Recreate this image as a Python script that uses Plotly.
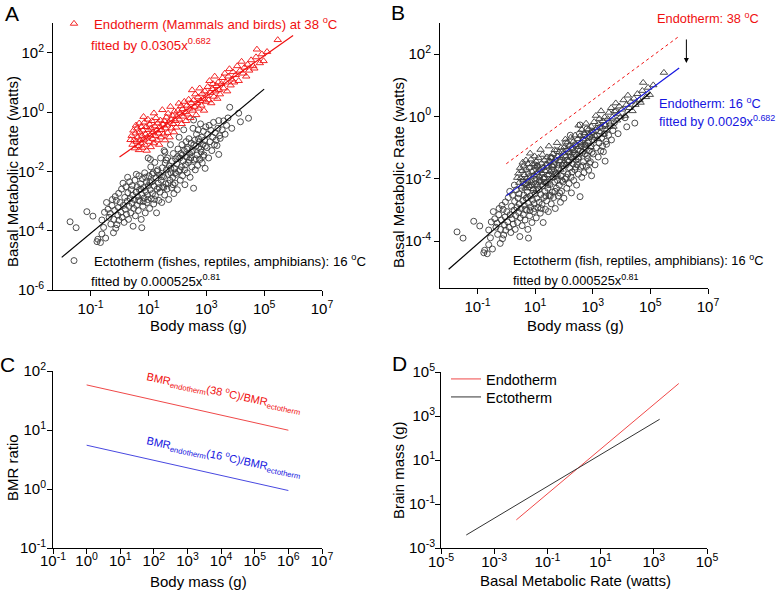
import math
import plotly.graph_objects as go

W, H = 778, 590
FONT = "Liberation Sans, Arial, Helvetica, sans-serif"
RED = "#f01010"
BLUE = "#1515e0"

# ---------------- data (log10 body mass [g], log10 BMR [W]) ----------------
ectotherm_points = [
    (-1.71, -3.70), (-1.50, -3.90), (-1.13, -3.36), (-0.92, -3.51), (-0.78, -4.37), (-0.75, -4.29),
    (-0.66, -4.40), (-0.61, -4.11), (-0.61, -3.64), (-0.55, -3.89), (-0.52, -3.38), (-0.48, -4.25),
    (-0.45, -3.05), (-0.40, -3.28), (-0.36, -3.55), (-0.32, -3.42), (-0.30, -3.78), (-0.26, -3.15),
    (-0.25, -2.95), (-0.21, -4.07), (-0.20, -3.62), (-0.17, -3.32), (-0.15, -2.85), (-0.13, -3.92),
    (-0.11, -2.98), (-0.09, -3.80), (-0.06, -3.48), (-0.04, -3.22), (-0.03, -2.74), (-0.02, -3.65),
    (0.02, -3.05), (0.05, -3.38), (0.07, -2.60), (0.09, -3.55), (0.12, -2.40), (0.13, -3.15),
    (0.16, -3.72), (0.18, -2.88), (0.20, -3.28), (0.22, -2.52), (0.24, -3.45), (0.27, -3.00),
    (0.28, -2.20), (0.29, -2.72), (0.31, -3.62), (0.33, -3.18), (0.35, -2.35), (0.37, -2.92),
    (0.39, -3.40), (0.41, -2.62), (0.43, -3.08), (0.44, -2.48), (0.45, -2.80), (0.47, -3.85),
    (0.49, -3.25),
    (0.51, -2.95), (0.53, -2.30), (0.55, -3.50), (0.57, -2.70), (0.58, -2.10), (0.59, -3.15),
    (0.61, -2.52), (0.63, -2.85), (0.65, -3.32), (0.66, -2.98), (0.67, -2.15), (0.69, -2.62),
    (0.71, -3.00), (0.73, -2.42), (0.74, -2.60), (0.75, -3.62), (0.77, -3.90), (0.77, -2.78),
    (0.79, -2.25), (0.81, -3.18), (0.82, -3.02), (0.83, -2.55), (0.85, -2.90), (0.87, -2.05),
    (0.89, -3.40), (0.90, -2.20), (0.91, -2.68), (0.93, -2.35), (0.95, -3.05), (0.97, -2.80),
    (0.98, -2.95), (0.99, -1.55), (1.00, -2.48),
    (1.02, -2.15), (1.04, -3.25), (1.05, -2.38), (1.06, -2.62), (1.07, -1.60), (1.08, -1.85),
    (1.10, -2.92), (1.12, -2.35), (1.13, -2.10), (1.14, -2.75), (1.16, -2.05), (1.18, -3.10),
    (1.20, -2.50), (1.21, -2.95), (1.22, -1.70), (1.24, -2.82), (1.26, -2.22), (1.28, -3.40),
    (1.29, -2.00), (1.30, -2.60), (1.32, -1.95), (1.34, -2.40), (1.36, -2.98), (1.37, -2.55),
    (1.38, -2.12), (1.40, -2.70), (1.42, -1.55), (1.44, -2.30), (1.45, -2.18), (1.46, -3.05),
    (1.48, -1.88), (1.50, -2.52),
    (1.52, -2.18), (1.53, -2.55), (1.54, -1.30), (1.56, -2.80), (1.57, -1.35), (1.58, -1.72),
    (1.60, -2.42), (1.61, -1.62), (1.62, -1.95), (1.64, -2.60), (1.66, -1.55), (1.68, -2.10),
    (1.69, -2.40), (1.70, -2.95), (1.72, -1.82), (1.74, -2.30), (1.76, -1.10), (1.77, -1.90),
    (1.78, -2.05), (1.80, -2.55), (1.82, -1.65), (1.84, -2.20), (1.85, -2.45), (1.86, -1.40),
    (1.88, -2.75), (1.90, -1.90), (1.92, -2.40), (1.93, -2.05), (1.94, -1.58), (1.96, -2.10),
    (1.98, -1.75), (2.00, -2.62),
    (2.01, -1.50), (2.02, -1.25), (2.04, -2.00), (2.06, -0.85), (2.08, -1.55), (2.09, -1.95),
    (2.10, -2.30), (2.12, -1.40), (2.14, -1.85), (2.16, -1.10), (2.17, -1.45), (2.18, -2.15),
    (2.20, -1.65), (2.22, -0.60), (2.24, -1.30), (2.25, -1.95), (2.26, -2.45), (2.28, -1.78),
    (2.30, -1.00), (2.32, -1.52), (2.33, -1.25), (2.34, -2.05), (2.36, -1.20), (2.38, -1.70),
    (2.40, -0.90), (2.41, -1.62), (2.42, -1.40), (2.44, -2.20), (2.46, -1.55), (2.48, -1.05),
    (2.49, -1.35), (2.50, -1.85),
    (2.52, -1.30), (2.54, -0.55), (2.56, -2.57), (2.56, -0.27), (2.57, -1.10), (2.58, -1.62),
    (2.60, -0.95), (2.62, -1.95), (2.64, -1.15), (2.65, -1.58), (2.66, -0.75), (2.68, -1.45),
    (2.70, -1.80), (2.72, -0.60), (2.73, -0.90), (2.74, -1.20), (2.76, -1.00), (2.78, -1.60),
    (2.80, -0.40), (2.81, -1.25), (2.82, -1.35), (2.84, -0.85), (2.86, -1.72), (2.88, -1.10),
    (2.89, -1.50), (2.90, -0.65), (2.92, -1.45), (2.94, -0.95), (2.96, -1.90), (2.97, -1.15),
    (2.98, -0.50),
    (3.02, -1.20), (3.05, -0.75), (3.08, -1.55), (3.10, -0.45), (3.13, -1.00), (3.16, -0.62),
    (3.19, -1.30), (3.22, -0.85), (3.25, -0.35), (3.28, -1.10), (3.31, -0.70), (3.34, -0.95),
    (3.37, -1.13), (3.40, -0.55), (3.43, -1.43), (3.43, -0.29), (3.46, -0.80), (3.48, -0.89),
    (3.55, -0.60), (3.60, -0.30), (3.65, -0.75), (3.70, -0.45), (3.75, -0.20), (3.81, 0.16),
    (3.88, -0.55), (4.12, -0.04), (4.18, -0.33), (4.46, -0.21),
]

endotherm_points = [
    (0.38, -0.94), (0.42, -0.80), (0.45, -1.10), (0.48, -0.62), (0.50, -0.95), (0.53, -1.22),
    (0.55, -0.72), (0.57, -0.45), (0.59, -1.00), (0.61, -0.55), (0.63, -0.85), (0.65, -1.15),
    (0.67, -1.28), (0.68, -0.38), (0.70, -0.68), (0.72, -0.95), (0.74, -1.05), (0.76, -0.50),
    (0.78, -0.80), (0.79, -1.20),
    (0.81, -0.62), (0.83, -0.16), (0.84, -0.92), (0.86, -0.35), (0.88, -1.10), (0.90, -0.75),
    (0.92, -0.50), (0.94, -1.30), (0.96, -0.85), (0.98, -0.25), (1.00, -0.60), (1.02, -1.00),
    (1.04, -0.42), (1.06, -0.78), (1.08, -1.18), (1.10, -0.55), (1.12, -0.30), (1.14, -0.90),
    (1.16, -0.68), (1.18, -1.05), (1.19, -0.04),
    (1.22, -0.48), (1.24, -0.80), (1.26, -0.20), (1.28, -0.62), (1.30, -0.95), (1.32, -0.38),
    (1.35, -0.72), (1.37, -1.10), (1.39, -0.50), (1.41, -0.28), (1.43, -0.85), (1.45, -0.60),
    (1.48, 0.07), (1.50, -0.42), (1.52, -0.75), (1.55, -0.30), (1.57, -0.95), (1.59, -0.55),
    (1.62, -0.18), (1.64, -0.45), (1.66, -0.70), (1.68, -0.05), (1.70, -0.35), (1.73, -0.85),
    (1.76, 0.18), (1.78, -0.25), (1.80, -0.55), (1.83, -0.12), (1.85, -0.40), (1.88, -0.68),
    (1.90, 0.02), (1.93, -0.30), (1.96, -0.52), (1.98, -0.15),
    (2.02, 0.05), (2.05, 0.29), (2.07, -0.25), (2.10, -0.05), (2.13, 0.20), (2.15, -0.40),
    (2.18, 0.10), (2.21, -0.15), (2.24, 0.35), (2.27, 0.00), (2.30, -0.30), (2.33, 0.22),
    (2.36, -0.08), (2.39, 0.42), (2.42, 0.12), (2.45, -0.20), (2.48, 0.30), (2.51, 0.74),
    (2.53, 0.05), (2.56, 0.40), (2.59, 0.18), (2.62, 0.60), (2.65, -0.10), (2.68, 0.30),
    (2.71, 0.50), (2.74, 0.12), (2.77, 0.80), (2.80, 0.38), (2.83, 0.22), (2.86, 0.62),
    (2.89, 0.45), (2.92, 0.05), (2.95, 0.70), (2.98, 0.35),
    (3.02, 0.55), (3.05, 0.85), (3.08, 0.40), (3.11, 1.05), (3.14, 0.65), (3.17, 0.30),
    (3.20, 0.78), (3.23, 0.95), (3.26, 0.52), (3.29, 1.20), (3.32, 0.70), (3.35, 0.88),
    (3.38, 0.45), (3.41, 1.00), (3.44, 0.75), (3.47, 0.60),
    (3.52, 0.95), (3.56, 1.15), (3.60, 0.80), (3.64, 1.30), (3.68, 1.00), (3.72, 0.70),
    (3.76, 1.20), (3.80, 1.45), (3.84, 0.90), (3.88, 1.10), (3.92, 1.35), (3.96, 1.00),
    (4.02, 1.25), (4.07, 1.55), (4.12, 1.05), (4.17, 1.40), (4.22, 1.70), (4.27, 1.30),
    (4.32, 1.50), (4.38, 1.20), (4.43, 1.60), (4.48, 1.40),
    (4.55, 1.75), (4.62, 1.55), (4.66, 1.47), (4.72, 1.85), (4.75, 2.11), (4.85, 1.65),
    (4.92, 1.95), (4.98, 1.72), (5.10, 2.03), (5.47, 2.43),
]

# fitted allometric relations given in the figure
ENDO_COEF_38 = 0.0305
ENDO_COEF_16 = 0.0029
ENDO_EXP = 0.682
ECTO_COEF = 0.000525
ECTO_EXP = 0.81
ecto_fit_mass = [1e-2, 1e5]
endo_fit_mass = [1e0, 1e6]
ratio_mass = [1e0, 1e6]

# panel D
endo_bmr = [0.0068, 8700.0]
endo_brain = [0.019, 30000.0]
ecto_bmr = [0.000089, 1660.0]
ecto_brain = [0.0039, 710.0]

ecto_mass = [10 ** p[0] for p in ectotherm_points]
ecto_rate = [10 ** p[1] for p in ectotherm_points]
endo_mass = [10 ** p[0] for p in endotherm_points]
endo_rate38 = [10 ** p[1] for p in endotherm_points]
endo_rate16 = [r * ENDO_COEF_16 / ENDO_COEF_38 for r in endo_rate38]


def fit(coef, exp, xs):
    return [coef * x ** exp for x in xs]


def fx(px):
    return px / W


def fy(py):
    return 1 - py / H


TICKFONT = dict(family=FONT, size=15, color="#000")


def decades(lo, hi):
    return list(range(math.ceil(lo), math.floor(hi) + 1))


def minors(lo, hi):
    out = []
    for k in range(math.floor(lo), math.ceil(hi) + 1):
        for m in range(2, 10):
            v = math.log10(m) + k
            if lo <= v <= hi:
                out.append(m * 10.0 ** k)
    return out


def main_axis(lo, hi, labeled, dom, anchor, standoff):
    labs = [k for k in decades(lo, hi) if k in labeled]
    return dict(
        type="log", range=[lo, hi], domain=dom, anchor=anchor, automargin=False,
        tickmode="array", tickvals=[10.0 ** k for k in labs],
        ticktext=["10<sup>%d</sup>" % k for k in labs],
        ticks="outside", ticklen=5, tickwidth=1, tickcolor="#000",
        ticklabelstandoff=standoff,
        showline=True, linecolor="#000", linewidth=1,
        showgrid=False, zeroline=False, tickfont=TICKFONT,
    )


def tick_axis(lo, hi, dom, anchor, overlay, side):
    # unlabeled decade ticks and sub-decade minor ticks
    return dict(
        type="log", range=[lo, hi], domain=dom, anchor=anchor, overlaying=overlay, side=side,
        automargin=False, tickmode="array", tickvals=[10.0 ** k for k in decades(lo, hi)],
        ticks="outside", ticklen=5, tickwidth=1, tickcolor="#000", showticklabels=False,
        showline=False, showgrid=False, zeroline=False,
        minor=dict(tickmode="array", tickvals=minors(lo, hi), ticks="outside", ticklen=2.5,
                   tickwidth=0.8, tickcolor="#000", showgrid=False),
    )


fig = go.Figure()

circ = dict(symbol="circle-open", size=6, color="#3a3a3a", line=dict(width=0.9))

# ---------- panel A ----------
fig.add_trace(go.Scatter(x=ecto_mass, y=ecto_rate, mode="markers", marker=circ,
                         name="Ectotherm (fishes, reptiles, amphibians): 16 <sup>o</sup>C",
                         legend="legend2", xaxis="x", yaxis="y"))
fig.add_trace(go.Scatter(x=endo_mass, y=endo_rate38, mode="markers",
                         marker=dict(symbol="triangle-up-open", size=6.5, color=RED, line=dict(width=0.9)),
                         name="Endotherm (Mammals and birds) at 38 <sup>o</sup>C",
                         legend="legend", xaxis="x", yaxis="y"))
fig.add_trace(go.Scatter(x=ecto_fit_mass, y=fit(ECTO_COEF, ECTO_EXP, ecto_fit_mass), mode="lines",
                         line=dict(color="#000", width=1.2), showlegend=False, xaxis="x", yaxis="y"))
fig.add_trace(go.Scatter(x=endo_fit_mass, y=fit(ENDO_COEF_38, ENDO_EXP, endo_fit_mass), mode="lines",
                         line=dict(color=RED, width=1.2), showlegend=False, xaxis="x", yaxis="y"))

# ---------- panel B ----------
fig.add_trace(go.Scatter(x=endo_mass, y=endo_rate16, mode="markers",
                         marker=dict(symbol="triangle-up-open", size=6.5, color="#3a3a3a", line=dict(width=0.9)),
                         showlegend=False, xaxis="x2", yaxis="y2"))
fig.add_trace(go.Scatter(x=ecto_mass, y=ecto_rate, mode="markers", marker=circ,
                         showlegend=False, xaxis="x2", yaxis="y2"))
fig.add_trace(go.Scatter(x=ecto_fit_mass, y=fit(ECTO_COEF, ECTO_EXP, ecto_fit_mass), mode="lines",
                         line=dict(color="#000", width=1.2), showlegend=False, xaxis="x2", yaxis="y2"))
fig.add_trace(go.Scatter(x=endo_fit_mass, y=fit(ENDO_COEF_16, ENDO_EXP, endo_fit_mass), mode="lines",
                         line=dict(color=BLUE, width=1.2), showlegend=False, xaxis="x2", yaxis="y2"))
fig.add_trace(go.Scatter(x=endo_fit_mass, y=fit(ENDO_COEF_38, ENDO_EXP, endo_fit_mass), mode="lines",
                         line=dict(color=RED, width=1, dash="dot"), showlegend=False, xaxis="x2", yaxis="y2"))

# ---------- panel C ----------
ratio38 = [a / b for a, b in zip(fit(ENDO_COEF_38, ENDO_EXP, ratio_mass), fit(ECTO_COEF, ECTO_EXP, ratio_mass))]
ratio16 = [a / b for a, b in zip(fit(ENDO_COEF_16, ENDO_EXP, ratio_mass), fit(ECTO_COEF, ECTO_EXP, ratio_mass))]
fig.add_trace(go.Scatter(x=ratio_mass, y=ratio38, mode="lines", line=dict(color="#f04848", width=1),
                         showlegend=False, xaxis="x3", yaxis="y3"))
fig.add_trace(go.Scatter(x=ratio_mass, y=ratio16, mode="lines", line=dict(color="#4848e0", width=1),
                         showlegend=False, xaxis="x3", yaxis="y3"))

# ---------- panel D ----------
fig.add_trace(go.Scatter(x=endo_bmr, y=endo_brain, mode="lines", line=dict(color="#f04848", width=1),
                         name="Endotherm", legend="legend3", xaxis="x4", yaxis="y4"))
fig.add_trace(go.Scatter(x=ecto_bmr, y=ecto_brain, mode="lines", line=dict(color="#333", width=1),
                         name="Ectotherm", legend="legend4", xaxis="x4", yaxis="y4"))

panels = {
    # panel: (xrange, yrange, x labels, y labels, x extent px, y extent px, x/y label standoff)
    1: ((-2.3, 7), (-6, 3), {-1, 1, 3, 5, 7}, {-6, -4, -2, 0, 2}, (53, 322), (290, 23), (0, 0)),
    2: ((-2.3, 7), (-5.5, 3), {-1, 1, 3, 5, 7}, {-4, -2, 0, 2}, (440, 708), (288, 23), (0, 0)),
    3: ((-1, 7), (-1, 2), set(range(-1, 8)), {-1, 0, 1, 2}, (53, 322), (548, 371), (-6, -2)),
    4: ((-5, 5), (-3, 5), {-5, -3, -1, 1, 3, 5}, {-3, -1, 1, 3, 5}, (441, 707), (548, 372), (-5, -3)),
}

layout = dict(
    template="none",
    width=W, height=H, autosize=False,
    margin=dict(l=0, r=0, t=0, b=0, autoexpand=False),
    paper_bgcolor="white", plot_bgcolor="white",
    font=dict(family=FONT, size=15, color="#000"),
    showlegend=True,
)
for i, (xr, yr, xl, yl, xd, yd, so) in panels.items():
    sfx = "" if i == 1 else str(i)
    xdom = [fx(xd[0]), fx(xd[1])]
    ydom = [fy(yd[0]), fy(yd[1])]
    layout["xaxis" + sfx] = main_axis(xr[0], xr[1], xl, xdom, "y" + sfx, so[0])
    layout["yaxis" + sfx] = main_axis(yr[0], yr[1], yl, ydom, "x" + sfx, so[1])
    layout["xaxis%d" % (i + 4)] = tick_axis(xr[0], xr[1], xdom, "y" + sfx, "x" + sfx, "bottom")
    layout["yaxis%d" % (i + 4)] = tick_axis(yr[0], yr[1], ydom, "x" + sfx, "y" + sfx, "left")

TXT = 13.2
leg = dict(xanchor="left", yanchor="middle", bgcolor="rgba(0,0,0,0)", borderwidth=0, itemwidth=30)
layout["legend"] = dict(leg, x=fx(54), y=fy(24), font=dict(family=FONT, size=TXT, color=RED))
layout["legend2"] = dict(leg, x=fx(54), y=fy(261), font=dict(family=FONT, size=TXT, color="#000"))
layout["legend3"] = dict(leg, x=fx(446), y=fy(379), font=dict(family=FONT, size=14.5, color="#000"))
layout["legend4"] = dict(leg, x=fx(446), y=fy(397), font=dict(family=FONT, size=14.5, color="#000"))
fig.update_layout(**layout)


def note(text, px, py, size=TXT, color="#000", xanchor="left", angle=0):
    fig.add_annotation(text=text, x=fx(px), y=fy(py), xref="paper", yref="paper",
                       xanchor=xanchor, yanchor="middle", showarrow=False, textangle=angle,
                       font=dict(family=FONT, size=size, color=color))


# panel letters
note("A", 12, 14, size=21, xanchor="center")
note("B", 398, 13, size=21, xanchor="center")
note("C", 8, 364, size=21, xanchor="center")
note("D", 399, 363, size=21, xanchor="center")

# axis titles
note("Basal Metabolic Rate (watts)", 12, 172, size=15, xanchor="center", angle=-90)
note("Basal Metabolic Rate (watts)", 398, 172, size=15, xanchor="center", angle=-90)
note("BMR ratio", 12, 468, size=15, xanchor="center", angle=-90)
note("Brain mass (g)", 398, 470, size=15, xanchor="center", angle=-90)
note("Body mass (g)", 198, 325, size=15, xanchor="center")
note("Body mass (g)", 575, 325, size=15, xanchor="center")
note("Body mass (g)", 198, 581, size=15, xanchor="center")
note("Basal Metabolic Rate (watts)", 575, 580, size=15, xanchor="center")

# panel A texts
note("fitted by 0.0305x<sup>0.682</sup>", 89, 44, color=RED)
note("fitted by 0.000525x<sup>0.81</sup>", 89, 280)

# panel B texts
note("Endotherm: 38 <sup>o</sup>C", 655, 18, size=12.8, color=RED)
note("Endotherm: 16 <sup>o</sup>C", 657, 103, size=12.8, color=BLUE)
note("fitted by 0.0029x<sup>0.682</sup>", 657, 121, size=12.8, color=BLUE)
note("Ectotherm (fish, reptiles, amphibians): 16 <sup>o</sup>C", 511, 260, size=12.8)
note("fitted by 0.000525x<sup>0.81</sup>", 511, 280, size=12.8)
fig.add_annotation(x=6.25, y=1.72, ax=6.25, ay=2.52, xref="x2", yref="y2", axref="x2", ayref="y2",
                   text="", showarrow=True, arrowhead=2, arrowsize=1, arrowwidth=1, arrowcolor="#000")

# panel C texts
note("BMR<sub>endotherm</sub>(38 <sup>o</sup>C)/BMR<sub>ectotherm</sub>", 224, 393, size=11,
     color=RED, xanchor="center", angle=12)
note("BMR<sub>endotherm</sub>(16 <sup>o</sup>C)/BMR<sub>ectotherm</sub>", 224, 457, size=11,
     color=BLUE, xanchor="center", angle=12)

fig.write_html("out.html", config={"displayModeBar": False, "staticPlot": True},
               post_script="document.body.style.margin='0px';")
